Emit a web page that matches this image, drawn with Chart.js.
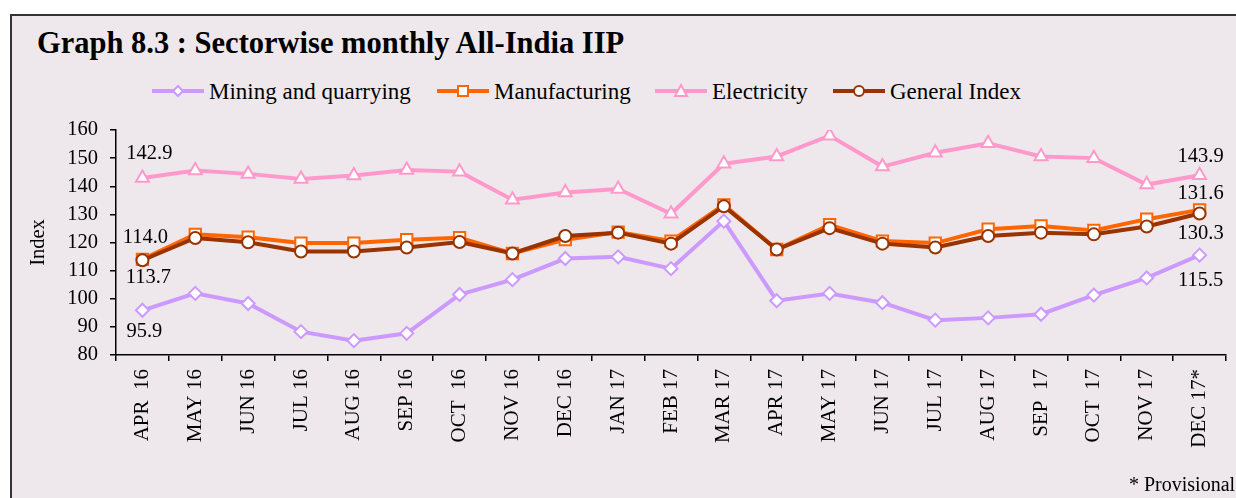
<!DOCTYPE html>
<html lang="en">
<head>
    <meta charset="UTF-8">
    <title>Graph 8.3 : Sectorwise monthly All-India IIP</title>
    <style>
        body { margin: 0; padding: 0; background: #fff; width: 1236px; height: 498px; overflow: hidden; position: relative; font-family: "Liberation Serif", "Times New Roman", serif; }
        .frame { position: absolute; left: 10px; top: 14px; width: 1260px; height: 520px; border: 2px solid #333; background: #eee8ec; }
        .title { position: absolute; left: 37px; top: 28px; font-size: 30.5px; line-height: 30px; font-weight: bold; color: #000; white-space: nowrap; }
        .legend-item { position: absolute; top: 80px; height: 23px; font-size: 23px; line-height: 23px; white-space: nowrap; color: #000; }
        .legend-item svg { position: absolute; left: 0; top: 3px; }
        .legend-item span { position: absolute; left: 57px; top: 0; }
        .note { position: absolute; left: 1129px; top: 474px; font-size: 20px; line-height: 20px; white-space: nowrap; }
        #chart { position: absolute; left: 0; top: 0; }
    </style>
</head>
<body>
    <div class="frame"></div>
    <div class="title">Graph 8.3 : Sectorwise monthly All-India IIP</div>

    <!-- legend: line + marker like the spreadsheet original -->
    <div class="legend-item" style="left:152px;">
        <svg width="54" height="16"><line x1="0" y1="8" x2="52" y2="8" stroke="#cc99ff" stroke-width="4"/><path d="M26 3 L31 8 L26 13 L21 8 Z" fill="#fff" stroke="#cc99ff" stroke-width="2"/></svg>
        <span>Mining and quarrying</span>
    </div>
    <div class="legend-item" style="left:437px;">
        <svg width="54" height="16"><line x1="0" y1="8" x2="52" y2="8" stroke="#ff6600" stroke-width="4"/><rect x="21" y="3" width="10" height="10" fill="#fff" stroke="#ff6600" stroke-width="2"/></svg>
        <span>Manufacturing</span>
    </div>
    <div class="legend-item" style="left:655px;">
        <svg width="54" height="16"><line x1="0" y1="8" x2="52" y2="8" stroke="#ff99cc" stroke-width="4"/><path d="M26 2 L32 13 L20 13 Z" fill="#fff" stroke="#ff99cc" stroke-width="2"/></svg>
        <span>Electricity</span>
    </div>
    <div class="legend-item" style="left:833px;">
        <svg width="54" height="16"><line x1="0" y1="8" x2="52" y2="8" stroke="#993300" stroke-width="4"/><circle cx="26" cy="8" r="5" fill="#fff" stroke="#993300" stroke-width="2"/></svg>
        <span>General Index</span>
    </div>

    <canvas id="chart" width="1236" height="498"></canvas>
    <div class="note">* Provisional</div>

    <script src="https://cdn.jsdelivr.net/npm/chart.js"></script>
    <script>
    // months (x axis)
    const months = ['APR  16', 'MAY 16', 'JUN 16', 'JUL 16', 'AUG 16', 'SEP 16', 'OCT  16', 'NOV 16', 'DEC 16',
        'JAN 17', 'FEB 17', 'MAR 17', 'APR 17', 'MAY 17', 'JUN 17', 'JUL 17', 'AUG 17', 'SEP  17', 'OCT  17', 'NOV 17', 'DEC 17*'];

    // index values (first and last are labelled)
    const mining = [95.9, 101.9, 98.3, 88.3, 85.1, 87.7, 101.5, 106.8, 114.3, 114.9, 110.7, 127.6, 99.3, 101.9, 98.6, 92.4, 93.2, 94.5, 101.3, 107.4, 115.5];
    const manufacturing = [114.0, 122.9, 121.9, 119.8, 119.8, 121.0, 121.7, 116.1, 121.0, 123.7, 120.5, 133.4, 117.5, 126.3, 120.5, 119.8, 124.7, 125.9, 124.3, 128.3, 131.6];
    const electricity = [142.9, 145.6, 144.4, 142.6, 143.8, 145.8, 145.2, 135.2, 137.8, 139.0, 130.2, 148.0, 150.6, 158.0, 147.0, 151.9, 155.3, 150.6, 150.0, 140.6, 143.9];
    const generalIndex = [113.7, 121.6, 120.1, 116.8, 116.8, 118.2, 120.2, 116.1, 122.3, 123.5, 119.6, 132.9, 117.5, 125.1, 119.6, 118.2, 122.3, 123.5, 122.9, 125.7, 130.3];

    // y axis ticks
    const yTicks = [80, 90, 100, 110, 120, 130, 140, 150, 160];

    const FONT = '"Liberation Serif", "Times New Roman", serif';

    // offsets of the end labels from their points: [first, last] as [dx, dy]
    const endLabelOffsets = {
        'Mining and quarrying': [[2, 21], [1, 25]],
        'Manufacturing': [[3, -22], [1, -16]],
        'Electricity': [[7, -24], [1, -19]],
        'General Index': [[6, 17], [1, 20]]
    };

    const endLabels = {
        id: 'endLabels',
        afterDatasetsDraw(chart) {
            const ctx = chart.ctx;
            ctx.save();
            ctx.font = '20.5px ' + FONT;
            ctx.fillStyle = '#000';
            ctx.textAlign = 'center';
            ctx.textBaseline = 'middle';
            chart.data.datasets.forEach((ds, i) => {
                const meta = chart.getDatasetMeta(i);
                const offs = endLabelOffsets[ds.label];
                if (!offs) return;
                [0, ds.data.length - 1].forEach((idx, k) => {
                    const pt = meta.data[idx];
                    ctx.fillText(ds.data[idx].toFixed(1), pt.x + offs[k][0], pt.y + offs[k][1]);
                });
            });
            ctx.restore();
        }
    };

    new Chart(document.getElementById('chart'), {
        type: 'line',
        data: {
            labels: months,
            datasets: [
                {
                    label: 'Mining and quarrying', data: mining, order: 4,
                    borderColor: '#cc99ff', borderWidth: 4,
                    pointStyle: 'rectRot', pointRadius: 6.5, pointBorderWidth: 2,
                    pointBackgroundColor: '#fff', pointBorderColor: '#cc99ff'
                },
                {
                    label: 'Manufacturing', data: manufacturing, order: 3,
                    borderColor: '#ff6600', borderWidth: 4,
                    pointStyle: 'rect', pointRadius: 8, pointBorderWidth: 2,
                    pointBackgroundColor: '#fff', pointBorderColor: '#ff6600'
                },
                {
                    label: 'Electricity', data: electricity, order: 2,
                    borderColor: '#ff99cc', borderWidth: 4,
                    pointStyle: 'triangle', pointRadius: 7.5, pointBorderWidth: 2,
                    pointBackgroundColor: '#fff', pointBorderColor: '#ff99cc'
                },
                {
                    label: 'General Index', data: generalIndex, order: 1,
                    borderColor: '#993300', borderWidth: 4,
                    pointStyle: 'circle', pointRadius: 6, pointBorderWidth: 2,
                    pointBackgroundColor: '#fff', pointBorderColor: '#993300'
                }
            ]
        },
        options: {
            responsive: false,
            animation: false,
            devicePixelRatio: 1,
            layout: { padding: { top: 130, right: 0, bottom: 0, left: 0 } },
            elements: { line: { tension: 0 } },
            plugins: {
                legend: { display: false },
                tooltip: { enabled: false }
            },
            scales: {
                x: {
                    offset: true,
                    grid: { offset: true, drawOnChartArea: false, color: '#000', lineWidth: 1.5, tickLength: 6 },
                    border: { color: '#000', width: 1.5 },
                    ticks: { color: '#000', font: { family: FONT, size: 21 }, minRotation: 90, maxRotation: 90, padding: 8, autoSkip: false },
                    afterFit(scale) { scale.height = 143; }
                },
                y: {
                    min: yTicks[0],
                    max: yTicks[yTicks.length - 1],
                    afterBuildTicks(scale) { scale.ticks = yTicks.map(v => ({ value: v })); },
                    grid: { drawOnChartArea: false, color: '#000', lineWidth: 1.5, tickLength: 6 },
                    border: { color: '#000', width: 1.5 },
                    ticks: { color: '#000', font: { family: FONT, size: 20.5 }, padding: 12 },
                    title: { display: true, text: 'Index', color: '#000', font: { family: FONT, size: 20.5 }, padding: { top: 26, bottom: 0 } },
                    afterFit(scale) { scale.width = 116; }
                }
            }
        },
        plugins: [endLabels]
    });
    </script>
</body>
</html>
